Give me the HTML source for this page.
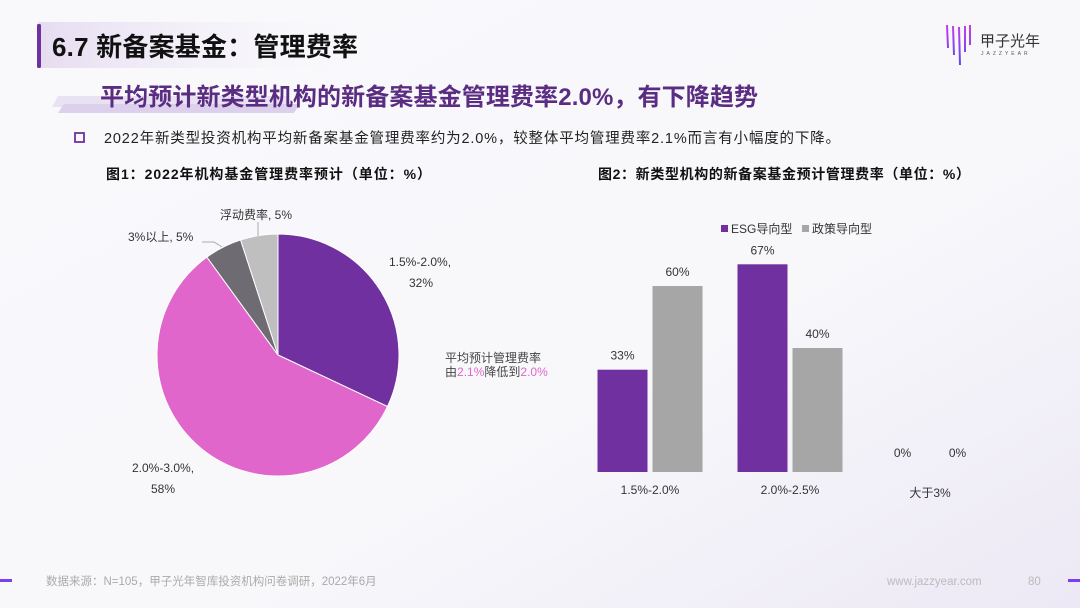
<!DOCTYPE html>
<html><head><meta charset="utf-8"><style>
html,body{margin:0;padding:0;width:1080px;height:608px;overflow:hidden;background:#f7f6fb}
svg{display:block;font-family:"Liberation Sans","Noto Sans CJK SC",sans-serif}
</style></head><body>
<svg width="1080" height="608" viewBox="0 0 1080 608">
<defs>
<linearGradient id="bg" x1="0" y1="0" x2="1" y2="1"><stop offset="0" stop-color="#f9f9fc"/><stop offset="0.6" stop-color="#f8f8fb"/><stop offset="1" stop-color="#ece8f5"/></linearGradient>
<linearGradient id="tb" x1="0" x2="1"><stop offset="0" stop-color="#e6dcf1"/><stop offset="1" stop-color="#f8f7fb" stop-opacity="0"/></linearGradient>
<linearGradient id="lg" gradientUnits="userSpaceOnUse" x1="0" y1="25" x2="0" y2="65"><stop offset="0" stop-color="#c63ee8"/><stop offset="1" stop-color="#5a4cf0"/></linearGradient>
</defs>
<rect width="1080" height="608" fill="url(#bg)"/>
<rect x="38" y="22" width="330" height="46" fill="url(#tb)"/>
<rect x="37" y="24" width="4" height="44" rx="1.5" fill="#7030a0"/>
<text x="52" y="56" font-size="26" font-weight="bold" fill="#111" textLength="306">6.7 新备案基金：管理费率</text>
<g>
<g stroke="url(#lg)" stroke-width="2"><line x1="947" y1="25" x2="948" y2="48"/><line x1="953" y1="26" x2="954" y2="55"/><line x1="959" y1="27" x2="960" y2="65"/><line x1="965" y1="26" x2="965" y2="52"/><line x1="970" y1="25" x2="970" y2="45"/></g>
<text x="980" y="46" font-size="15" fill="#333">甲子光年</text>
<text x="981" y="55" font-size="5" fill="#555" letter-spacing="3">JAZZYEAR</text>
</g>
<polygon points="58,96 290,96 284,107 52,107" fill="#e9e2f3"/>
<polygon points="64,104 300,104 294,113 58,113" fill="#ddd0ec"/>
<text x="100" y="105" font-size="24" font-weight="bold" fill="#5b2d82" textLength="658">平均预计新类型机构的新备案基金管理费率2.0%，有下降趋势</text>
<rect x="75" y="133" width="9" height="9" fill="none" stroke="#7030a0" stroke-width="1.8"/>
<text x="104" y="143" font-size="14.5" fill="#222" textLength="736">2022年新类型投资机构平均新备案基金管理费率约为2.0%，较整体平均管理费率2.1%而言有小幅度的下降。</text>
<text x="106" y="179" font-size="14" font-weight="bold" fill="#111" textLength="325">图1：2022年机构基金管理费率预计（单位：%）</text>
<text x="598" y="179" font-size="14" font-weight="bold" fill="#111" textLength="372">图2：新类型机构的新备案基金预计管理费率（单位：%）</text>
<g id="pie"></g>
<g font-size="12" fill="#333">
<text x="389" y="266">1.5%-2.0%,</text><text x="409" y="287">32%</text>
<text x="132" y="472">2.0%-3.0%,</text><text x="151" y="493">58%</text>
<text x="128" y="241">3%以上, 5%</text>
<text x="220" y="219">浮动费率, 5%</text>
<polyline points="202,242 214,242 222,247" fill="none" stroke="#aaa"/>
<line x1="258" y1="222" x2="258" y2="236" stroke="#aaa"/>
</g>
<g font-size="12" fill="#444">
<text x="445" y="362">平均预计管理费率</text>
<text x="445" y="376">由<tspan fill="#e066cc">2.1%</tspan>降低到<tspan fill="#e066cc">2.0%</tspan></text>
</g>
<g font-size="12" fill="#333">
<rect x="721" y="225" width="7" height="7" fill="#7030a0"/><text x="731" y="233">ESG导向型</text>
<rect x="802" y="225" width="7" height="7" fill="#a6a6a6"/><text x="812" y="233">政策导向型</text>
</g>
<g id="bars"></g>
<g>
<rect x="0" y="579" width="12" height="3" fill="#7a3ff0"/>
<rect x="1068" y="579" width="12" height="3" fill="#7a3ff0"/>
<text x="46" y="585" font-size="11.5" fill="#aaa">数据来源：N=105，甲子光年智库投资机构问卷调研，2022年6月</text>
<text x="887" y="585" font-size="11.5" fill="#bbb">www.jazzyear.com</text>
<text x="1028" y="585" font-size="11.5" fill="#bbb">80</text>
</g>
</svg>
<script>
const pieLabels=["1.5%-2.0%","2.0%-3.0%","3%以上","浮动费率"];
const pieValues=[32,58,5,5];
const pieColors=["#7030a0","#e066cc","#6e6b73","#bfbfbf"];
const barCategories=["1.5%-2.0%","2.0%-2.5%","大于3%"];
const esgValues=[33,67,0];
const policyValues=[60,40,0];
const NS="http://www.w3.org/2000/svg";
const pie=document.getElementById('pie');
const cx=278,cy=355,r=121;
const tot=pieValues.reduce((a,b)=>a+b,0);
let a0=-Math.PI/2;
pieValues.forEach((v,i)=>{
  const a1=a0+v/tot*2*Math.PI;
  const p=document.createElementNS(NS,'path');
  const large=(a1-a0)>Math.PI?1:0;
  p.setAttribute('d',`M${cx},${cy} L${cx+r*Math.cos(a0)},${cy+r*Math.sin(a0)} A${r},${r} 0 ${large} 1 ${cx+r*Math.cos(a1)},${cy+r*Math.sin(a1)} Z`);
  p.setAttribute('fill',pieColors[i]);p.setAttribute('stroke','#fff');p.setAttribute('stroke-width','1');
  
  
  pie.appendChild(p);a0=a1;
});
const bars=document.getElementById('bars');
const base=472,scale=3.1,x0=650,step=140,bw=50;
const y=v=>base-v*scale;
function txt(x,yy,s){const t=document.createElementNS(NS,'text');t.setAttribute('x',x);t.setAttribute('y',yy);t.setAttribute('font-size','12');t.setAttribute('fill','#333');t.setAttribute('text-anchor','middle');t.textContent=s;return t;}
barCategories.forEach((c,i)=>{
  const gx=x0+i*step;
  [[esgValues,'#7030a0',gx-bw-2.5],[policyValues,'#a6a6a6',gx+2.5]].forEach(([arr,col,bx],k)=>{
    const v=arr[i];
    const rc=document.createElementNS(NS,'rect');
    rc.setAttribute('x',bx);rc.setAttribute('y',y(v));rc.setAttribute('width',bw);rc.setAttribute('height',v*scale);rc.setAttribute('fill',col);
    
    
    bars.appendChild(rc);
    const t=txt(bx+bw/2,y(v)-10+(v===0?-5:0),v+'%');
    
    
    bars.appendChild(t);
  });
  const l=txt(gx,494+(i===2?3:0),c);
  
  
  bars.appendChild(l);
});
</script>
</body></html>
